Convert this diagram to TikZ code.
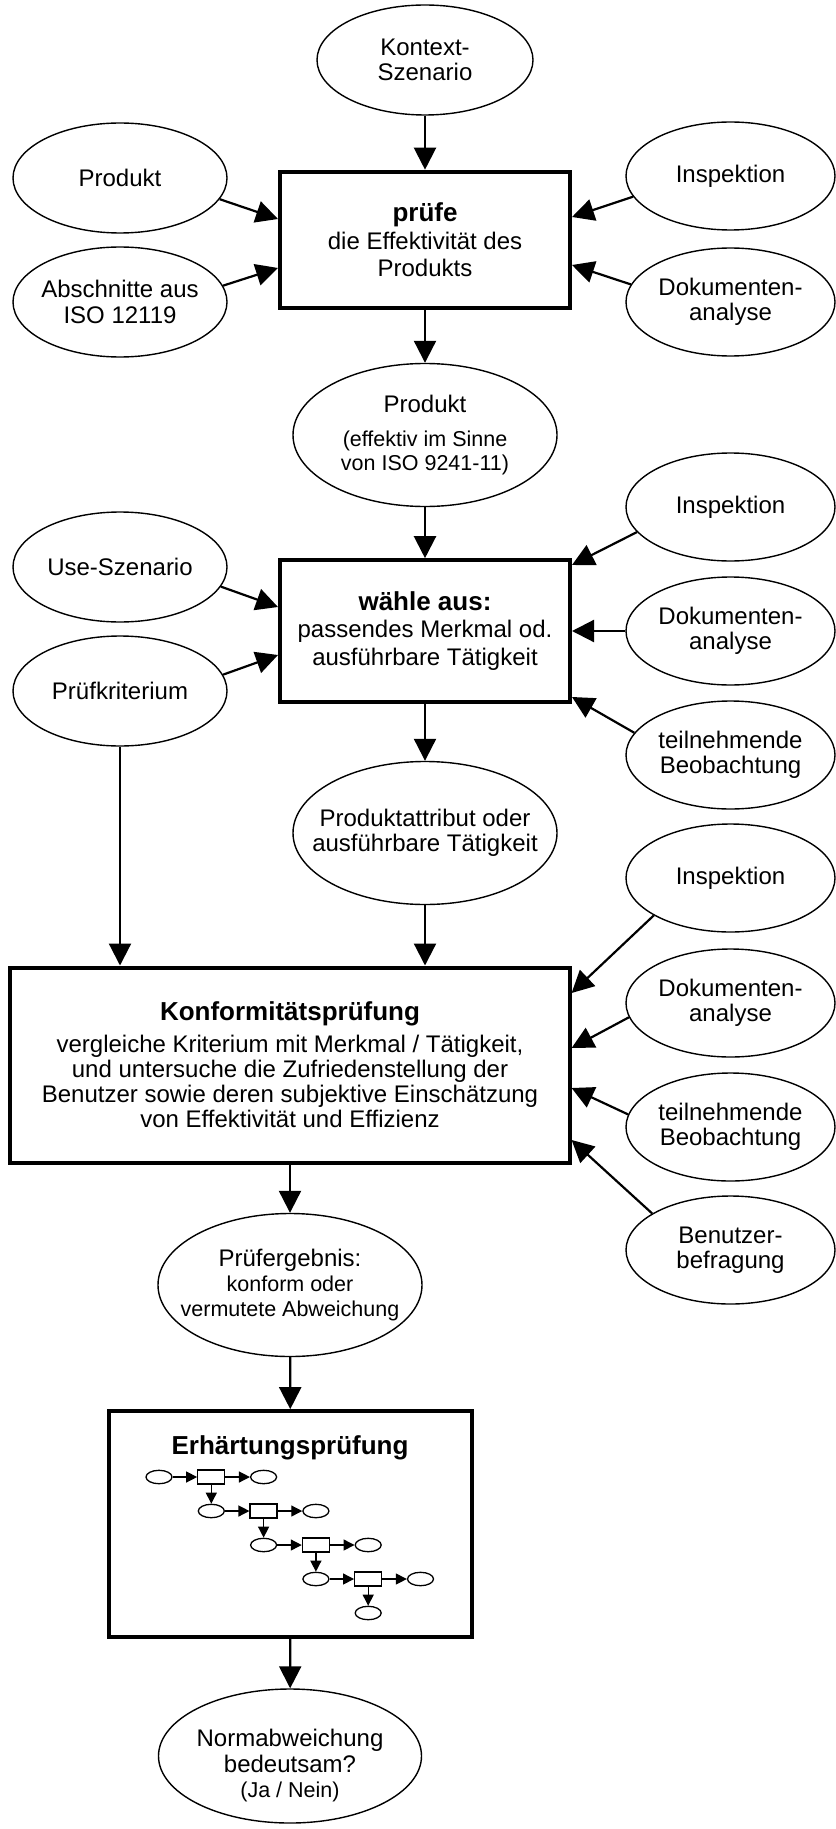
\documentclass[tikz,border=0pt]{standalone}
\usepackage{fontspec}
\setmainfont{Liberation Sans}
\usetikzlibrary{arrows.meta,shapes.geometric}

% font shortcuts
\newcommand\bft{\fontsize{13}{14}\selectfont\bfseries}
\newcommand\mdf{\fontsize{12}{13}\selectfont}
\newcommand\smf{\fontsize{10.75}{11.85}\selectfont}

\begin{document}
\begin{tikzpicture}[x=0.5pt,y=-0.5pt,
  every node/.style={align=center, inner sep=0pt},
  bubble/.style={ellipse, draw, line width=0.7pt, inner xsep=-40pt, inner ysep=-20pt,
    font=\fontsize{12}{12.6}\selectfont},
  sidebubble/.style={bubble, minimum width=107pt, minimum height=55pt},
  rightbubble/.style={bubble, minimum width=104.5pt, minimum height=54pt},
  bigbubble/.style={bubble, minimum width=132pt, minimum height=71.5pt},
  stepbox/.style={rectangle, draw, line width=2pt, font=\fontsize{12}{13.75}\selectfont},
  arr/.style={-{Triangle[length=11pt,width=11pt]}, line width=1.1pt},
  smallarr/.style={-{Triangle[length=5.5pt,width=5.5pt]}, line width=0.65pt},
  miniplace/.style={ellipse, draw, line width=0.65pt, minimum width=13pt, minimum height=6.7pt},
  minitrans/.style={rectangle, draw, line width=0.65pt, minimum width=13.5pt, minimum height=7pt},
  boxtitle/.style={font=\bft},
]
\useasboundingbox (0,0) rectangle (835,1829);

% ---- stage 1: check effectiveness
\node[sidebubble, minimum width=108pt, minimum height=55pt] (kontext) at (425,60) {Kontext-\\Szenario};
\node[sidebubble] (prod) at (120,178) {Produkt};
\node[sidebubble] (absch) at (120,302) {Abschnitte aus\\ISO 12119};
\node[stepbox, minimum width=145pt, minimum height=68.3pt] (pruefe) at (425,240)
  {{\bft prüfe}\\die Effektivität des\\Produkts};
\node[rightbubble] (insp1) at (730.5,176) {Inspektion};
\node[rightbubble] (dok1) at (730.5,302) {Dokumenten-\\analyse};

% ---- stage 2: select feature / task
\node[bigbubble, font=\smf] (prodeff) at (425,435)
  {{\mdf Produkt}\\[5.15pt](effektiv im Sinne\\von ISO 9241-11)};
\node[stepbox, minimum width=145pt, minimum height=70.8pt] (waehle) at (425,631)
  {{\bft wähle aus:}\\passendes Merkmal od.\\ausführbare Tätigkeit};
\node[sidebubble] (use) at (120,567) {Use-Szenario};
\node[sidebubble] (krit) at (120,691) {Prüfkriterium};
\node[rightbubble] (insp2) at (730.5,507) {Inspektion};
\node[rightbubble] (dok2) at (730.5,631) {Dokumenten-\\analyse};
\node[rightbubble] (teil2) at (730.5,755) {teilnehmende\\Beobachtung};
\node[bigbubble] (attr) at (425,833) {Produktattribut oder\\ausführbare Tätigkeit};

% ---- stage 3: conformity check
\node[stepbox, minimum width=279.6pt, minimum height=97.5pt, font=\fontsize{12}{12.5}\selectfont] (konf) at (290,1065)
  {{\bft Konformitätsprüfung}\\[3.5pt]vergleiche Kriterium mit Merkmal / Tätigkeit,\\und untersuche die Zufriedenstellung der\\Benutzer sowie deren subjektive Einschätzung\\von Effektivität und Effizienz};
\node[rightbubble] (insp3) at (730.5,878) {Inspektion};
\node[rightbubble] (dok3) at (730.5,1003) {Dokumenten-\\analyse};
\node[rightbubble] (teil3) at (730.5,1127) {teilnehmende\\Beobachtung};
\node[rightbubble] (benu) at (730.5,1250) {Benutzer-\\befragung};
\node[bigbubble, font=\fontsize{10.75}{12.5}\selectfont] (ergeb) at (290,1285)
  {{\mdf Prüfergebnis:}\\[0.3pt]konform oder\\vermutete Abweichung};

% ---- stage 4: corroboration
\node[stepbox, minimum width=181.2pt, minimum height=112.85pt] (erh) at (290.5,1524) {};
\node[boxtitle] (erhtitle) at (290,1448) {Erhärtungsprüfung};

\node[miniplace] (p0) at (159,1477) {};
\node[minitrans] (t0) at (211.3,1477) {};
\node[miniplace] (q0) at (263.6,1477) {};
\node[miniplace] (p1) at (211.3,1511) {};
\node[minitrans] (t1) at (263.6,1511) {};
\node[miniplace] (q1) at (315.9,1511) {};
\node[miniplace] (p2) at (263.6,1545) {};
\node[minitrans] (t2) at (315.9,1545) {};
\node[miniplace] (q2) at (368.2,1545) {};
\node[miniplace] (p3) at (315.9,1579) {};
\node[minitrans] (t3) at (368.2,1579) {};
\node[miniplace] (q3) at (420.5,1579) {};
\node[miniplace] (p4) at (368.2,1613) {};

\draw[smallarr] (p0) -- (t0);
\draw[smallarr] (t0) -- (q0);
\draw[smallarr] (t0) -- (p1);
\draw[smallarr] (p1) -- (t1);
\draw[smallarr] (t1) -- (q1);
\draw[smallarr] (t1) -- (p2);
\draw[smallarr] (p2) -- (t2);
\draw[smallarr] (t2) -- (q2);
\draw[smallarr] (t2) -- (p3);
\draw[smallarr] (p3) -- (t3);
\draw[smallarr] (t3) -- (q3);
\draw[smallarr] (t3) -- (p4);

% the strut on the first line lowers the text block inside the ellipse
\node[bigbubble, minimum width=131.5pt, minimum height=67pt, font=\fontsize{12}{13.15}\selectfont] (norm) at (290,1756)
  {\rule{0pt}{17.8pt}Normabweichung\\bedeutsam?\\[-0.8pt]{\smf (Ja / Nein)}};

% ---- connectors
\draw[arr] (kontext) -- (pruefe);
\draw[arr] (prod.348) -- (pruefe.west |- 0,219);
\draw[arr] (absch.9) -- (pruefe.west |- 0,268);
\draw[arr] (insp1.192) -- (pruefe.east |- 0,217);
\draw[arr] (dok1.170) -- (pruefe.east |- 0,265);
\draw[arr] (pruefe) -- (prodeff);

\draw[arr] (prodeff) -- (waehle);
\draw[arr] (use.349) -- (waehle.west |- 0,607);
\draw[arr] (krit.9) -- (waehle.west |- 0,655);
\draw[arr] (insp2.195) -- (waehle.east |- 0,565);
\draw[arr] (dok2) -- (waehle);
\draw[arr] (teil2.167) -- (waehle.east |- 0,697);
\draw[arr] (waehle) -- (attr);

\draw[arr] (krit) -- (krit |- konf.north);
\draw[arr] (attr) -- (attr |- konf.north);
\draw[arr] (insp3.206) -- (konf.east |- 0,993);
\draw[arr] (dok3.188) -- (konf.east |- 0,1048);
\draw[arr] (teil3.173) -- (konf.east |- 0,1088);
\draw[arr] (benu.155) -- (konf.east |- 0,1140);
\draw[arr] (konf) -- (ergeb);

\draw[arr] (ergeb) -- (erh);
\draw[arr] (erh) -- (norm);
\end{tikzpicture}
\end{document}
